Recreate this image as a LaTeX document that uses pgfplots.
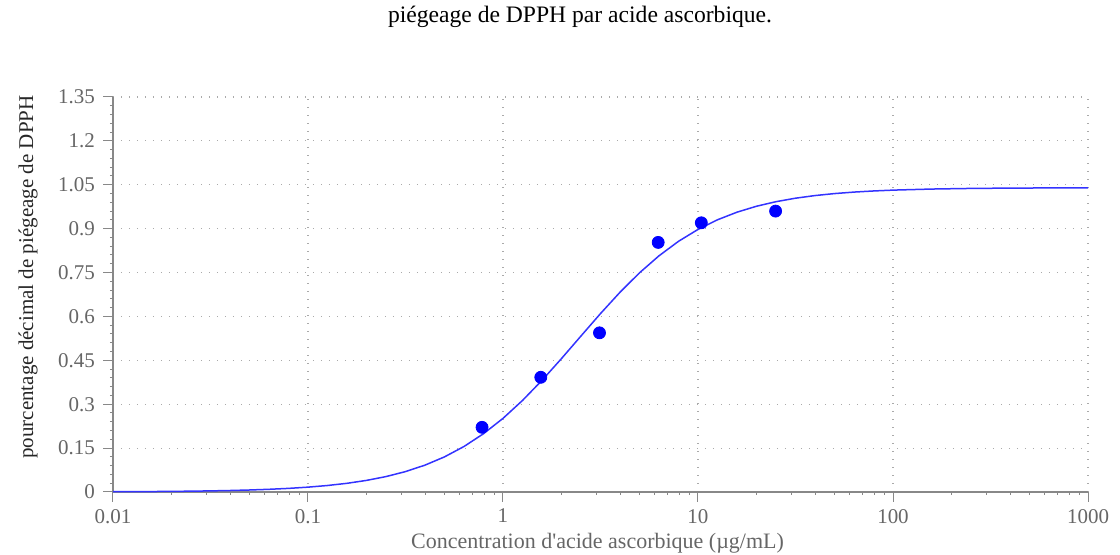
\documentclass[border=0pt]{standalone}
\usepackage{pgfplots}
\pgfplotsset{compat=1.18}
\usepackage{fontspec}
\setmainfont{Liberation Serif}
\definecolor{axgray}{HTML}{888888}
\definecolor{txtgray}{HTML}{666666}
\definecolor{gridgray}{HTML}{AAAAAA}
\definecolor{curveblue}{HTML}{3333FF}
\begin{document}
\begin{tikzpicture}
\useasboundingbox (-56.5pt,-31.5pt) rectangle (503.5pt,246pt);
\begin{axis}[
  at={(0,0)}, anchor=south west,
  scale only axis, width=487.5pt, height=197.5pt,
  xmode=log, xmin=0.01, xmax=1000, ymin=0, ymax=1.35,
  axis x line=bottom, axis y line=left,
  axis line style={axgray, line width=0.6pt, -},
  xtick={0.01,0.1,1,10,100,1000},
  xticklabels={0.01,0.1,1,10,100,1000},
  ytick={0,0.15,0.3,0.45,0.6,0.75,0.9,1.05,1.2,1.35},
  yticklabels={0,0.15,0.3,0.45,0.6,0.75,0.9,1.05,1.2,1.35},
  minor x tick num=19, minor y tick num=4,
  tick style={axgray, line width=0.5pt},
  major tick length=5pt, minor tick length=1.5pt,
  tick align=outside,
  grid=major,
  major grid style={gridgray, line width=0.6pt, dash pattern=on 0.6pt off 3.4pt},
  minor grid style={draw=none},
  ticklabel style={font=\fontsize{10.5}{12}\selectfont, text=txtgray},
  xticklabel style={yshift=0pt},
  yticklabel style={xshift=-0.5pt},
  xlabel={Concentration d\textquotesingle acide ascorbique (µg/mL)},
  xlabel style={at={(axis description cs:0.497,0)}, anchor=base, yshift=-28.5pt, font=\fontsize{11}{13}\selectfont, text=txtgray},
  ylabel={pourcentage décimal de piégeage de DPPH},
  ylabel style={at={([xshift=-42.5pt]axis description cs:0,0.544)}, anchor=center, font=\fontsize{10.5}{12}\selectfont, text=black!85},
  title={piégeage de DPPH par acide ascorbique.},
  title style={at={(axis description cs:0.479,1)}, anchor=center, yshift=34pt, font=\fontsize{11.8}{14}\selectfont, text=black},
  clip=false,
]
\addplot[curveblue, line width=0.75pt] table {
x y
0.01 0.000852
0.012589 0.001148
0.015849 0.001547
0.019953 0.002083
0.025119 0.002805
0.031623 0.003775
0.039811 0.005080
0.050119 0.006833
0.063096 0.009187
0.079433 0.01234
0.1 0.01656
0.12589 0.02219
0.15849 0.02968
0.19953 0.03960
0.25119 0.05266
0.31623 0.06971
0.39811 0.09179
0.50119 0.1200
0.63096 0.1555
0.79433 0.1992
1 0.2516
1.2589 0.3128
1.5849 0.3815
1.9953 0.4560
2.5119 0.5332
3.1623 0.6098
3.9811 0.6826
5.0119 0.7490
6.3096 0.8072
7.9433 0.8567
10 0.8974
12.589 0.9303
15.849 0.9563
19.953 0.9766
25.119 0.9922
31.623 1.0041
39.811 1.0131
50.119 1.0199
63.096 1.0250
79.433 1.0288
100 1.0317
158.49 1.0354
251.19 1.0375
398.11 1.0386
630.96 1.0392
1000 1.0396
};
\addplot[only marks, mark=*, mark size=3pt, color=blue, fill=blue] table {
x y
0.78125 0.221
1.5625 0.392
3.125 0.544
6.25 0.853
10.4 0.920
25 0.960
};
\end{axis}
\end{tikzpicture}
\end{document}
